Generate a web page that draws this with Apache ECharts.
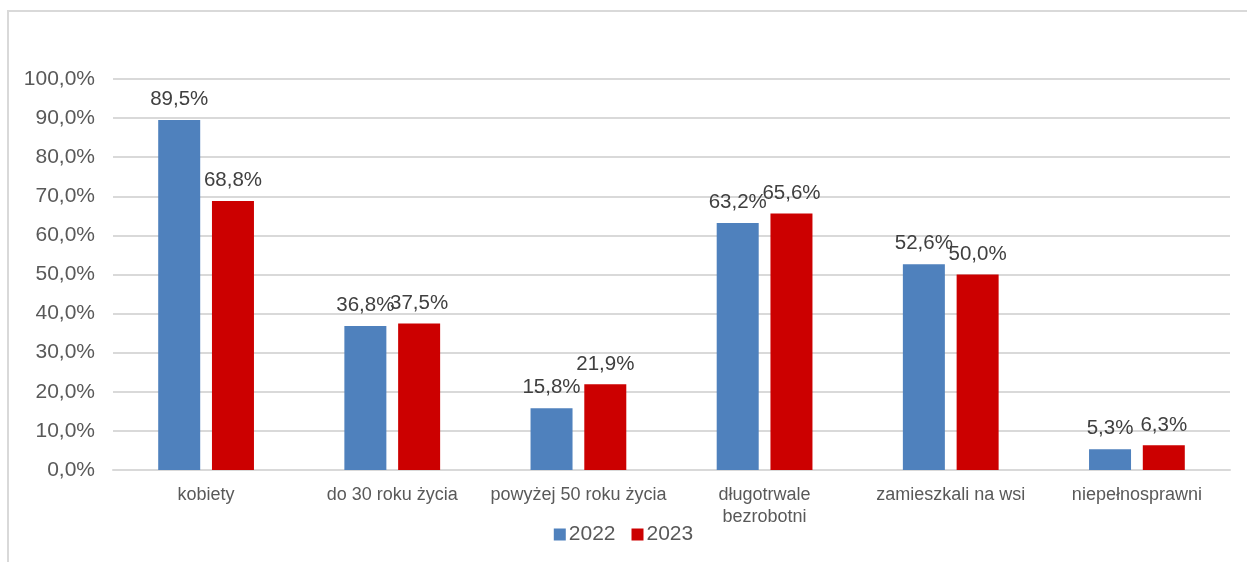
<!DOCTYPE html>
<html>
<head>
<meta charset="utf-8">
<script src="https://cdn.jsdelivr.net/npm/echarts@6/dist/echarts.min.js"></script>
<style>
  html, body { margin: 0; padding: 0; background: #fff; }
  #frame { position: absolute; left: 7px; top: 10px; width: 1260px; height: 570px;
           border-top: 2px solid #d9d9d9; border-left: 2px solid #d9d9d9; }
  #main { position: absolute; left: 0; top: 0; width: 1247px; height: 562px; }
</style>
</head>
<body>
<div id="frame"></div>
<div id="main"></div>
<script>
var categories = ['kobiety', 'do 30 roku życia', 'powyżej 50 roku życia', 'długotrwale\nbezrobotni', 'zamieszkali na wsi', 'niepełnosprawni'];
var values2022 = [89.5, 36.8, 15.8, 63.2, 52.6, 5.3];
var values2023 = [68.8, 37.5, 21.9, 65.6, 50.0, 6.3];

function pct(v) { return v.toFixed(1).replace('.', ',') + '%'; }

var myChart = echarts.init(document.getElementById('main'));
var labelStyle = {
  show: true, position: 'top', distance: 10,
  color: '#404040', fontSize: 20.5, fontFamily: 'Liberation Sans, Arial',
  formatter: function (p) { return pct(p.value); }
};
var option = {
  animation: false,
  textStyle: { fontFamily: 'Liberation Sans, Arial' },
  grid: { left: 113, right: 17, top: 79, bottom: 92, containLabel: false },
  legend: {
    bottom: 12, left: 'center', itemWidth: 12, itemHeight: 12, itemGap: 16,
    icon: 'rect',
    textStyle: { color: '#595959', fontSize: 21, padding: [0, 0, 0, -2] },
    data: ['2022', '2023']
  },
  xAxis: {
    type: 'category', data: categories,
    axisLine: { lineStyle: { color: '#d9d9d9', width: 2 } },
    axisTick: { show: false },
    axisLabel: { color: '#595959', fontSize: 18, margin: 14, lineHeight: 22, interval: 0 }
  },
  yAxis: {
    type: 'value', min: 0, max: 100, interval: 10,
    axisLine: { show: false }, axisTick: { show: false },
    splitLine: { lineStyle: { color: '#d9d9d9', width: 2 } },
    axisLabel: { color: '#595959', fontSize: 21, margin: 18, formatter: function (v) { return pct(v); } }
  },
  series: [
    { name: '2022', type: 'bar', data: values2022, barWidth: 42, barGap: '28%',
      itemStyle: { color: '#4f81bd' }, label: labelStyle },
    { name: '2023', type: 'bar', data: values2023, barWidth: 42,
      itemStyle: { color: '#cc0000' }, label: labelStyle }
  ]
};
myChart.setOption(option);
</script>
</body>
</html>
